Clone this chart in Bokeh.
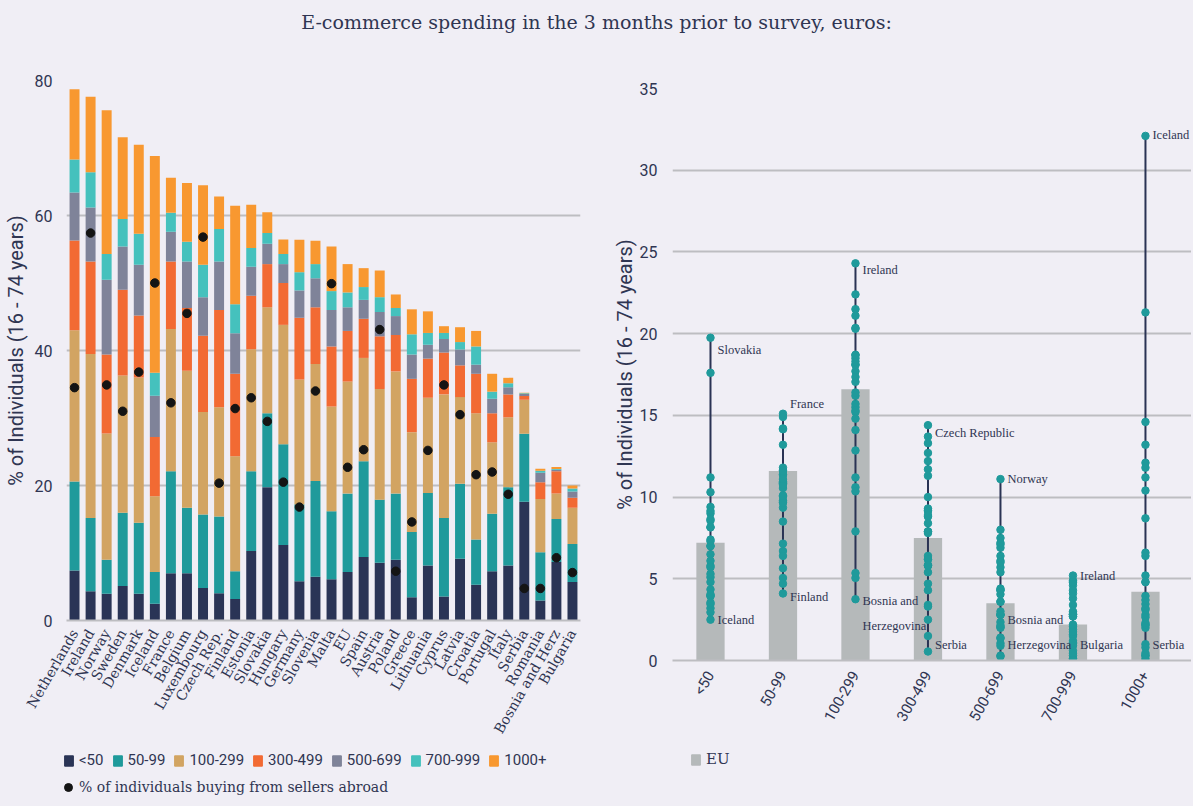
import math
import numpy as np
from bokeh.plotting import figure
from bokeh.models import (ColumnDataSource, FactorRange, Range1d, Legend, LegendItem,
                          Div, LabelSet, FixedTicker)
from bokeh.layouts import column, row
from bokeh.embed import file_html
from bokeh.resources import INLINE

# ---------------- data ----------------
countries = ["Netherlands", "Ireland", "Norway", "Sweden", "Denmark", "Iceland", "France",
             "Belgium", "Luxembourg", "Czech Rep.", "Finland", "Estonia", "Slovakia",
             "Hungary", "Germany", "Slovenia", "Malta", "EU", "Spain", "Austria", "Poland",
             "Greece", "Lithuania", "Cyprus", "Latvia", "Croatia", "Portugal", "Italy",
             "Serbia", "Romania", "Bosnia and Herz", "Bulgaria"]

bands = ["<50", "50-99", "100-299", "300-499", "500-699", "700-999", "1000+"]

lt50 = [7.4, 4.35, 3.95, 5.1, 3.95, 2.5, 7.0, 7.0, 4.8, 4.05, 3.2, 10.3, 19.75, 11.2, 5.8, 6.5,
        6.1, 7.2, 9.4, 8.55, 9.0, 3.45, 8.15, 3.55, 9.15, 5.3, 7.3, 8.15, 17.6, 2.95, 8.65, 5.7]
s50_99 = [13.2, 10.85, 5.05, 10.85, 10.55, 4.7, 15.1, 9.7, 10.9, 11.35, 4.1, 11.8, 10.95, 14.9,
          11.4, 14.15, 10.1, 11.6, 14.2, 9.35, 9.8, 9.65, 10.75, 11.65, 11.1, 6.7, 8.5, 11.6,
          10.05, 7.15, 6.4, 5.65]
s100_299 = [22.4, 24.3, 18.7, 20.35, 21.5, 11.2, 21.1, 20.3, 15.2, 16.2, 17.05, 18.1, 15.7, 17.7,
            18.5, 17.35, 15.5, 16.6, 15.3, 16.4, 18.1, 14.8, 14.1, 18.3, 12.85, 18.7, 10.6, 10.35,
            5.05, 7.9, 3.75, 5.35]
s300_499 = [13.3, 13.7, 11.7, 12.7, 9.2, 8.8, 10.0, 9.3, 11.3, 14.4, 12.2, 7.9, 6.4, 6.2, 9.15,
            8.4, 8.9, 7.5, 5.8, 7.8, 5.4, 7.9, 5.8, 6.2, 4.7, 5.85, 4.3, 3.4, 0.55, 2.5, 3.3, 1.5]
s500_699 = [7.1, 8.0, 11.1, 6.4, 7.5, 6.1, 4.4, 6.9, 5.7, 7.2, 6.0, 4.3, 3.0, 2.8, 4.05, 4.3, 5.4,
            3.5, 2.8, 3.6, 2.8, 3.6, 2.05, 2.0, 2.35, 1.35, 2.15, 1.05, 0.3, 1.4, 0.25, 0.9]
s700_999 = [4.9, 5.2, 3.8, 4.1, 4.6, 3.4, 2.8, 2.9, 4.8, 4.8, 4.3, 2.8, 1.6, 1.5, 2.7, 2.1, 2.8,
            2.2, 1.9, 2.2, 1.2, 3.0, 1.75, 0.9, 1.1, 2.7, 1.05, 0.6, 0.1, 0.3, 0.1, 0.45]
s1000 = [10.4, 11.2, 21.3, 12.1, 13.2, 32.1, 5.2, 8.7, 11.8, 4.8, 14.6, 6.4, 3.1, 2.15, 4.8, 3.45,
         6.6, 4.2, 2.8, 3.95, 2.0, 3.7, 3.2, 1.0, 2.2, 2.3, 2.65, 0.8, 0.1, 0.3, 0.3, 0.45]
abroad = [34.5, 57.4, 34.9, 31.0, 36.8, 50.0, 32.25, 45.5, 56.8, 20.35, 31.4, 33.0, 29.5, 20.5,
          16.8, 34.0, 49.9, 22.7, 25.3, 43.1, 7.3, 14.6, 25.2, 34.9, 30.5, 21.6, 22.0, 18.7, 4.75,
          4.75, 9.3, 7.1]

# annotation labels on the right chart
lab_text = ["Slovakia", "Iceland", "France", "Finland", "Ireland", "Bosnia and", "Herzegovina",
            "Czech Republic", "Serbia", "Norway", "Bosnia and", "Herzegovina", "Ireland",
            "Bulgaria", "Iceland", "Serbia"]
lab_cat = ["<50", "<50", "50-99", "50-99", "100-299", "100-299", "100-299", "300-499", "300-499",
           "500-699", "500-699", "500-699", "700-999", "700-999", "1000+", "1000+"]
lab_y = [19.0, 2.47, 15.7, 3.9, 23.9, 3.67, 2.14, 13.9, 0.92, 11.1, 2.5, 0.92, 5.16, 0.92,
         32.15, 0.92]

# ---------------- style ----------------
BG = "#f0eef5"
TXT = "#2f3552"
GRID = "#bdbdc1"
SANS = "Roboto"
SERIF = "DejaVu Serif"
SERIF_C = "DejaVu Serif Condensed, DejaVu Serif"
colors = ["#2a3456", "#1f9a9b", "#d2a462", "#f26a33", "#7f8399", "#45c1bd", "#f89830"]
EU_COLOR = "#b5b9ba"
DOT_COLOR = "#141414"

series = [lt50, s50_99, s100_299, s300_499, s500_699, s700_999, s1000]
keys = ["b%d" % i for i in range(len(bands))]
eu_i = countries.index("EU")


def style_axes(p, yticks, xfont, xsize, ystandoff, lstandoff):
    p.background_fill_color = BG
    p.border_fill_color = BG
    p.outline_line_color = None
    p.yaxis.ticker = FixedTicker(ticks=yticks)
    p.yaxis.axis_line_color = None
    p.yaxis.major_tick_line_color = None
    p.yaxis.minor_tick_line_color = None
    p.yaxis.major_label_text_font = SANS
    p.yaxis.major_label_text_font_size = "16px"
    p.yaxis.major_label_text_color = TXT
    p.yaxis.major_label_standoff = ystandoff
    p.yaxis.axis_label = "% of Individuals (16 - 74 years)"
    p.yaxis.axis_label_text_font = SANS
    p.yaxis.axis_label_text_font_style = "normal"
    p.yaxis.axis_label_text_font_size = "20px"
    p.yaxis.axis_label_text_color = TXT
    p.yaxis.axis_label_standoff = lstandoff
    p.xaxis.axis_line_color = GRID
    p.xaxis.axis_line_width = 2
    p.xaxis.major_tick_line_color = None
    p.xaxis.minor_tick_line_color = None
    p.xaxis.major_label_orientation = math.pi / 3
    p.xaxis.major_label_text_font = xfont
    p.xaxis.major_label_text_font_size = xsize
    p.xaxis.major_label_text_color = TXT
    p.xaxis.major_label_standoff = 4
    p.xgrid.grid_line_color = None
    p.ygrid.grid_line_color = GRID
    p.ygrid.grid_line_width = 2
    p.frame_align = False


def legend_fig(width):
    # a strip that only carries a legend; its proxy glyphs lie outside its y range
    f = figure(width=width, height=60, x_range=Range1d(0, 1), y_range=Range1d(1000, 1001),
               x_axis_type=None, y_axis_type=None, output_backend="svg",
               toolbar_location=None, min_border=0)
    f.background_fill_color = BG
    f.border_fill_color = BG
    f.outline_line_color = None
    f.frame_align = False
    return f


def make_legend(items, loc, font, size, gw=11, gh=13, standoff=5):
    return Legend(items=items, orientation="horizontal", location=loc,
                  glyph_width=gw, glyph_height=gh, label_standoff=standoff, spacing=8,
                  padding=0, margin=0, label_text_font=font, label_text_font_size=size,
                  label_text_color=TXT, background_fill_alpha=0, border_line_alpha=0,
                  label_height=14)


# ---------------- left chart ----------------
data = dict(country=countries, abroad=abroad)
for k, s in zip(keys, series):
    data[k] = s
src = ColumnDataSource(data)

p1 = figure(x_range=FactorRange(*countries, range_padding=0), y_range=Range1d(0, 80),
            frame_width=514, frame_height=540, output_backend="svg", toolbar_location=None,
            min_border_left=57, min_border_right=29, min_border_top=37, min_border_bottom=126)

stack = p1.vbar_stack(keys, x="country", width=0.62, color=colors, line_color=None, source=src)
p1.scatter(x="country", y="abroad", size=8.5, color=DOT_COLOR, source=src)
style_axes(p1, [0, 20, 40, 60, 80], SERIF, "14px", 8, 4)

lf1 = legend_fig(600)
leg_rs = [lf1.vbar(x=[0.5], top=[s[eu_i]], width=0.1, color=c) for s, c in zip(series, colors)]
dot_r = lf1.scatter(x=[0.5], y=[abroad[eu_i]], size=8.5, color=DOT_COLOR)
lf1.add_layout(make_legend([LegendItem(label=b, renderers=[leg_rs[i]])
                            for i, b in enumerate(bands)], (63, 37), SANS, "15px"))
lf1.add_layout(make_legend([LegendItem(label="% of individuals buying from sellers abroad",
                                       renderers=[dot_r])], (58, 9), SERIF, "14px",
                           gw=20, gh=20, standoff=1))

# ---------------- right chart ----------------
nat_idx = [i for i, c in enumerate(countries) if c != "EU"]
eu_vals = [s[eu_i] for s in series]
xpos = list(range(len(bands)))

pt_x, pt_y = [], []
mins, maxs = [], []
for j, s in enumerate(series):
    v = np.array([s[i] for i in nat_idx])
    pt_x += [j] * len(v)
    pt_y += list(v)
    mins.append(float(v.min()))
    maxs.append(float(v.max()))

p2 = figure(x_range=Range1d(-0.524, 6.635), y_range=Range1d(0, 35),
            frame_width=519, frame_height=572, output_backend="svg", toolbar_location=None,
            min_border_left=50, min_border_right=0, min_border_top=45, min_border_bottom=79)

p2.vbar(x=xpos, top=eu_vals, width=0.39, color=EU_COLOR, line_color=None)
p2.segment(x0=xpos, y0=mins, x1=xpos, y1=maxs, line_color="#2a3354", line_width=2)
p2.scatter(x=pt_x, y=pt_y, size=7.5, color="#1f9a9b")
style_axes(p2, [0, 5, 10, 15, 20, 25, 30, 35], SANS, "15px", 9, 0)
p2.xaxis.ticker = FixedTicker(ticks=xpos)
p2.xaxis.major_label_overrides = {i: b for i, b in enumerate(bands)}
p2.xaxis.major_label_standoff = 6

lsrc = ColumnDataSource(dict(x=[bands.index(c) for c in lab_cat], y=lab_y, t=lab_text))
p2.add_layout(LabelSet(x="x", y="y", text="t", source=lsrc, x_offset=7,
                       text_baseline="middle", text_font=SERIF_C, text_font_size="12.5px",
                       text_color=TXT))

lf2 = legend_fig(577)
eu_r = lf2.vbar(x=[0.5], top=[eu_vals[0]], width=0.1, color=EU_COLOR)
lf2.add_layout(make_legend([LegendItem(label="EU", renderers=[eu_r])], (81, 31), SERIF, "15px"))

title = Div(text='<div style="width:1183px;text-align:center;font-family:\'DejaVu Serif\';'
                 'font-size:19px;color:#2f3552;padding-top:4px;">'
                 'E-commerce spending in the 3 months prior to survey, euros:</div>',
            width=1183, height=33, styles={"background-color": BG})

layout = column(title, row(column(p1, lf1), column(p2, lf2)), styles={"background-color": BG})

html = file_html(layout, INLINE, title="E-commerce spending")
html = html.replace("<body>", '<body style="background-color:#f0eef5;">', 1)
open("out.html", "w").write(html)
